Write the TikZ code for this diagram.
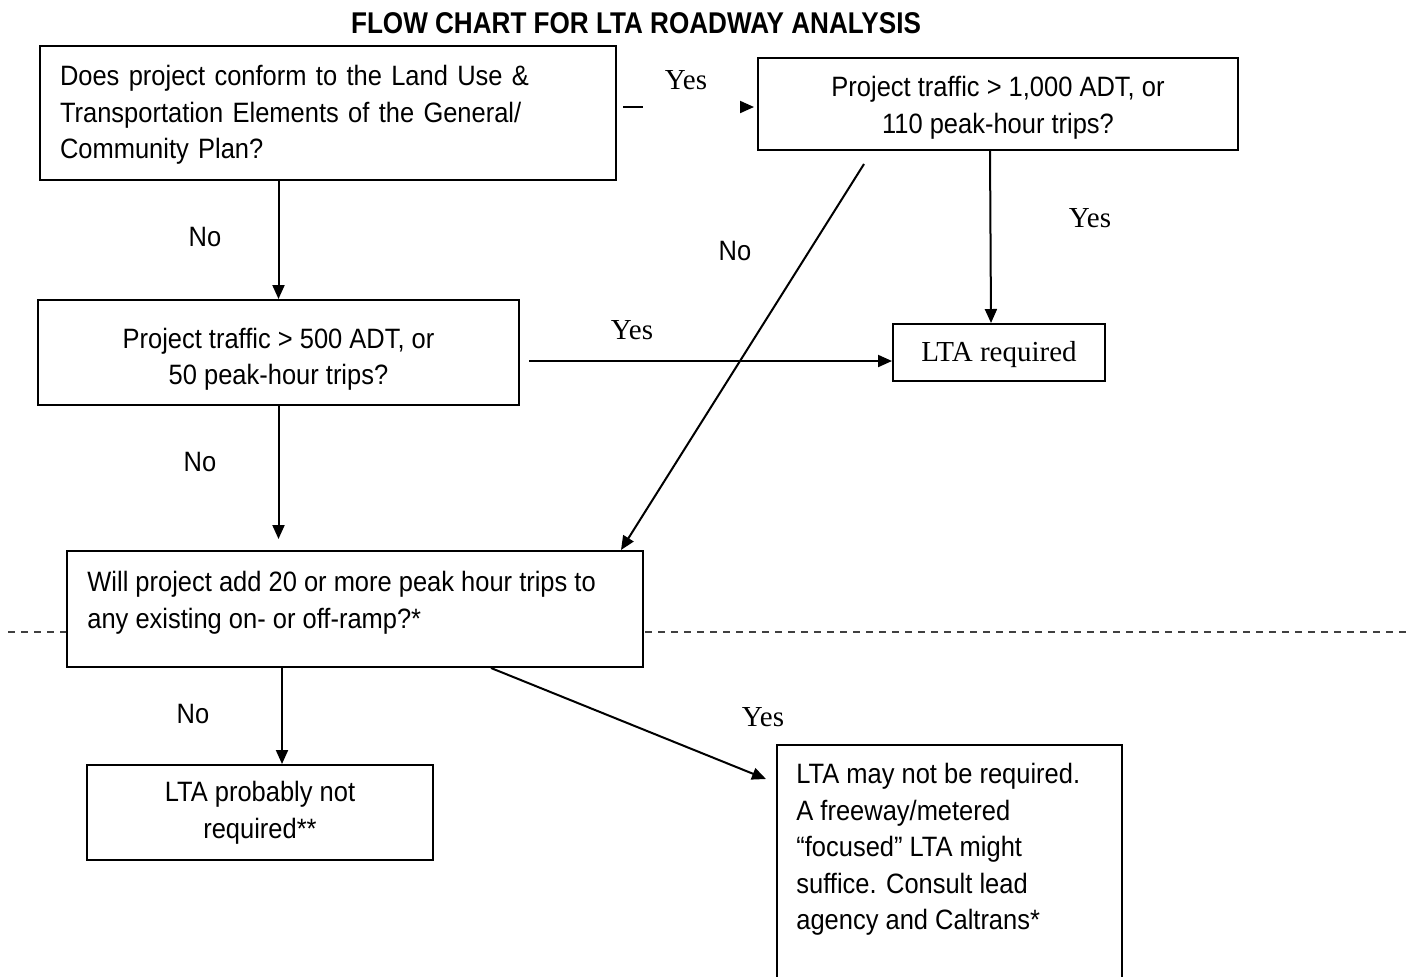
\documentclass[tikz,border=0pt]{standalone}
\usepackage{fontspec}
\setmainfont[FakeStretch=0.91]{Liberation Sans}
\newfontfamily\titlefont[FakeStretch=0.87]{Liberation Sans}
\newfontfamily\timesrm{Liberation Serif}
\usetikzlibrary{arrows.meta,positioning}
\newcommand{\topstrut}[1]{\rule{0pt}{#1}}

\tikzset{
  box/.style={draw, line width=1pt, fill=white, inner sep=0pt},
  txt/.style={inner sep=0pt, font=\fontsize{14}{18.25}\selectfont},
  yes/.style={font=\timesrm\fontsize{14.5}{17}\selectfont},
  no/.style={font=\fontsize{14}{16}\selectfont},
  arr/.style={-{Triangle[length=7pt,width=6pt]}, line width=1pt},
}

\begin{document}
\begin{tikzpicture}[x=0.5pt,y=-0.5pt]
  \useasboundingbox (0,0) rectangle (1416,976);
  % dashed separator behind the boxes
  \draw[dash pattern=on 3.5pt off 3pt, line width=0.7pt, black!75] (8,632) -- (1410,632);

  \node[font=\titlefont\bfseries\fontsize{15}{18}\selectfont] (title) at (636,23) {FLOW CHART FOR LTA ROADWAY ANALYSIS};

  % boxes
  \node[box, txt, minimum width=288pt, minimum height=67pt, text width=268pt, align=left] (q1) at (328,113)
    {\topstrut{12pt}Does project conform to the Land Use \&\\Transportation Elements of the General/\\Community Plan?};
  \node[box, txt, minimum width=240pt, minimum height=46pt, align=center] (q2) at (998,104)
    {\topstrut{13.7pt}Project traffic > 1,000 ADT, or\\110 peak-hour trips?};
  \node[box, txt, minimum width=240.5pt, minimum height=52.5pt, align=center] (q3) at (278.5,352.5)
    {\topstrut{16.7pt}Project traffic > 500 ADT, or\\50 peak-hour trips?};
  \node[box, yes, minimum width=106pt, minimum height=28.5pt] (req) at (999,352.5) {\topstrut{12pt}LTA required};
  \node[box, minimum width=288pt, minimum height=58pt] (q4) at (355,609) {};
  \node[txt, anchor=north west, align=left] (q4t) at ([shift={(10.5pt,-10.5pt)}]q4.north west)
    {Will project add 20 or more peak hour trips to\\any existing on- or off-ramp?*};
  \node[box, txt, minimum width=173pt, minimum height=47.5pt, align=center] (notreq) at (260,812.5)
    {LTA probably not\\required**};
  \node[box, minimum width=172.5pt, minimum height=127.5pt] (maybe) at (949.5,872.5) {};
  \node[txt, anchor=north west, align=left] (maybet) at ([shift={(10pt,-9.5pt)}]maybe.north west)
    {LTA may not be required.\\A freeway/metered\\“focused” LTA might\\suffice. Consult lead\\agency and Caltrans*};

  % connectors
  \coordinate (y1) at ([shift={(3pt,3pt)}]q1.east);
  \draw[arr, dash pattern=on 10pt off 200pt, shorten >=1.5pt] (y1) -- (y1 -| q2.west);
  \draw[arr] (q1.south -| q3.north) -- (q3.north);
  \draw[arr] ([xshift=-4pt]q2.south) -- ([xshift=-4pt]req.north);
  \coordinate (y3) at ([shift={(4.5pt,-4.25pt)}]q3.east);
  \draw[arr] (y3) -- (y3 -| req.west);
  \coordinate (n2) at ([shift={(53.5pt,-6.5pt)}]q2.south west);
  \draw[arr] (n2) -- ([xshift=-11.5pt]q4.north east);
  \draw[arr, shorten >=5.5pt] (q3.south) -- (q3.south |- q4.north);
  \coordinate (n4) at ([xshift=-36.5pt]q4.south);
  \draw[arr] (n4) -- (n4 |- notreq.north);
  \coordinate (y4) at ([xshift=-76.5pt]q4.south east);
  \coordinate (y4e) at ([shift={(-5pt,-17.5pt)}]maybe.north west);
  \draw[arr] (y4) -- (y4e);

  % labels
  \node[yes] (l1) at (686,80) {Yes};
  \node[no] (l2) at (205,237) {No};
  \node[yes] (l3) at (1090,218) {Yes};
  \node[no] (l4) at (735,251) {No};
  \node[yes] (l5) at (632,330) {Yes};
  \node[no] (l6) at (200,462) {No};
  \node[no] (l7) at (193,714) {No};
  \node[yes] (l8) at (763,717) {Yes};
\end{tikzpicture}
\end{document}
